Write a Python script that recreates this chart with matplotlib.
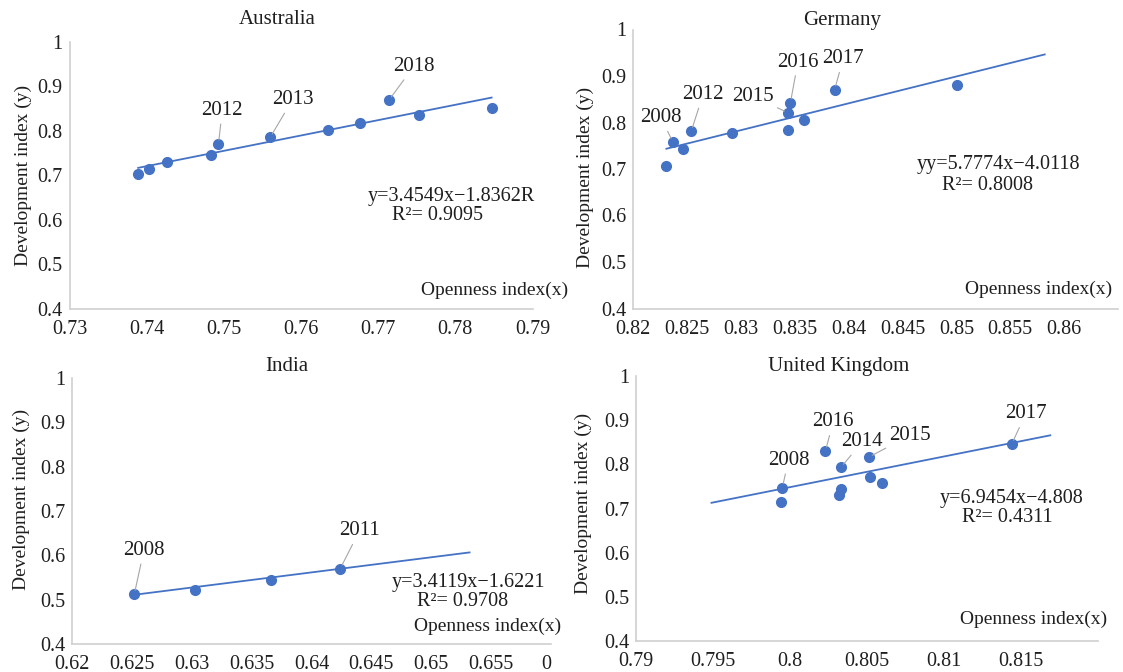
import matplotlib.pyplot as plt

plt.rcParams['font.family'] = ['Liberation Serif', 'DejaVu Serif']

W, H = 1123, 672
BLUE = '#4472C4'
GREY = '#a6a6a6'
TXT = '#1f1f1f'

# ---- data ----
aus_x = [0.7389, 0.7403, 0.7426, 0.7483, 0.7493, 0.7560, 0.7635, 0.7677, 0.7714, 0.7753, 0.7847]
aus_y = [0.703, 0.714, 0.730, 0.746, 0.770, 0.785, 0.801, 0.817, 0.869, 0.836, 0.851]
aus_fit = (3.4549, -1.8362, 0.7389, 0.7847)
aus_years = ['2012', '2013', '2018']
aus_year_pts = [(0.7493, 0.770), (0.7560, 0.785), (0.7714, 0.869)]
aus_year_txt = [(0.7498, 0.846), (0.7589, 0.870), (0.7746, 0.945)]

ger_x = [0.8231, 0.8237, 0.8246, 0.8254, 0.8292, 0.8344, 0.8344, 0.8346, 0.8359, 0.8387, 0.8501]
ger_y = [0.706, 0.758, 0.744, 0.781, 0.778, 0.784, 0.821, 0.842, 0.806, 0.870, 0.880]
ger_fit = (5.7774, -4.0118, 0.8231, 0.8582)
ger_years = ['2008', '2012', '2015', '2016', '2017']
ger_year_pts = [(0.8237, 0.758), (0.8254, 0.781), (0.8344, 0.821), (0.8346, 0.842), (0.8387, 0.870)]
ger_year_txt = [(0.8226, 0.810), (0.8265, 0.860), (0.8311, 0.856), (0.8353, 0.930), (0.8395, 0.937)]

ind_x = [0.6252, 0.6303, 0.6366, 0.6424]
ind_y = [0.512, 0.5215, 0.544, 0.570]
ind_fit = (3.4119, -1.6221, 0.6252, 0.6532)
ind_years = ['2008', '2011']
ind_year_pts = [(0.6252, 0.512), (0.6424, 0.570)]
ind_year_txt = [(0.6260, 0.611), (0.6440, 0.655)]

uk_x = [0.7994, 0.7995, 0.8023, 0.8032, 0.8033, 0.8033, 0.8051, 0.8052, 0.8060, 0.8144]
uk_y = [0.715, 0.747, 0.830, 0.731, 0.745, 0.793, 0.816, 0.772, 0.758, 0.846]
uk_fit = (6.9454, -4.808, 0.7949, 0.8169)
uk_years = ['2008', '2016', '2014', '2015', '2017']
uk_year_pts = [(0.7995, 0.747), (0.8023, 0.830), (0.8033, 0.793), (0.8051, 0.816), (0.8144, 0.846)]
uk_year_txt = [(0.7999, 0.809), (0.8028, 0.896), (0.8047, 0.851), (0.8078, 0.866), (0.8153, 0.914)]

y_ticks = [0.4, 0.5, 0.6, 0.7, 0.8, 0.9, 1.0]
y_ticklabels = ['0.4', '0.5', '0.6', '0.7', '0.8', '0.9', '1']

aus_xticks = [0.73, 0.74, 0.75, 0.76, 0.77, 0.78, 0.79]
aus_xlabels = ['0.73', '0.74', '0.75', '0.76', '0.77', '0.78', '0.79']
ger_xticks = [0.82, 0.825, 0.83, 0.835, 0.84, 0.845, 0.85, 0.855, 0.86]
ger_xlabels = ['0.82', '0.825', '0.83', '0.835', '0.84', '0.845', '0.85', '0.855', '0.86']
ind_xticks = [0.62, 0.625, 0.63, 0.635, 0.64, 0.645, 0.65, 0.655, 0.66]
ind_xlabels = ['0.62', '0.625', '0.63', '0.635', '0.64', '0.645', '0.65', '0.655', '0']
uk_xticks = [0.79, 0.795, 0.8, 0.805, 0.81, 0.815]
uk_xlabels = ['0.79', '0.795', '0.8', '0.805', '0.81', '0.815']

equations = [('y=3.4549x\u22121.8362R', 'R\u00b2= 0.9095'),
             ('yy=5.7774x\u22124.0118', 'R\u00b2= 0.8008'),
             ('y=3.4119x\u22121.6221', 'R\u00b2= 0.9708'),
             ('y=6.9454x\u22124.808', 'R\u00b2= 0.4311')]
titles = ['Australia', 'Germany', 'India', 'United Kingdom']


def box(l, r, t, b):
    return [l / W, 1 - b / H, (r - l) / W, (b - t) / H]


def ftext(px, py, s, **kw):
    fig.text(px / W, 1 - py / H, s, color=TXT, **kw)


fig = plt.figure(figsize=(W / 100, H / 100), dpi=100)

panels = [
    dict(box=box(69.5, 532.5, 42, 308.5), xlim=(0.73, 0.79), xt=aus_xticks, xl=aus_xlabels,
         x=aus_x, y=aus_y, fit=aus_fit, yrs=aus_years, ypts=aus_year_pts, ytxt=aus_year_txt,
         title=(277, 20), ylab=(23, 175), eq=((451, 197), (438, 216)), open=(421, 290)),
    dict(box=box(633, 1118, 29.5, 308.5), xlim=(0.82, 0.865), xt=ger_xticks, xl=ger_xlabels,
         x=ger_x, y=ger_y, fit=ger_fit, yrs=ger_years, ypts=ger_year_pts, ytxt=ger_year_txt,
         title=(842, 21), ylab=(585, 177), eq=((998, 165), (988, 185)), open=(965, 289)),
    dict(box=box(72, 551, 378, 644), xlim=(0.62, 0.66), xt=ind_xticks, xl=ind_xlabels,
         x=ind_x, y=ind_y, fit=ind_fit, yrs=ind_years, ypts=ind_year_pts, ytxt=ind_year_txt,
         title=(287, 367), ylab=(21, 499), eq=((468, 583), (463, 602)), open=(414, 626)),
    dict(box=box(636, 1098, 376, 641), xlim=(0.79, 0.82), xt=uk_xticks, xl=uk_xlabels,
         x=uk_x, y=uk_y, fit=uk_fit, yrs=uk_years, ypts=uk_year_pts, ytxt=uk_year_txt,
         title=(839, 367), ylab=(583, 503), eq=((1012, 499), (1007, 518)), open=(960, 619)),
]

for i, p in enumerate(panels):
    ax = fig.add_axes(p['box'])
    ax.set_xlim(*p['xlim'])
    ax.set_ylim(0.4, 1.0)
    ax.set_xticks(p['xt'])
    ax.set_xticklabels(p['xl'])
    ax.set_yticks(y_ticks)
    ax.set_yticklabels(y_ticklabels)
    ax.tick_params(length=0, labelsize=14.5, colors=TXT)
    ax.tick_params(axis='x', pad=8)
    ax.tick_params(axis='y', pad=5)
    for s in ['top', 'right']:
        ax.spines[s].set_visible(False)
    for s in ['left', 'bottom']:
        ax.spines[s].set_color('#d0d0d0')
        ax.spines[s].set_linewidth(1.2)
    if i == 2:
        ax.get_xticklabels()[-1].set_ha('right')

    a, b, x0, x1 = p['fit']
    ax.plot([x0, x1], [a * x0 + b, a * x1 + b], color=BLUE, lw=1.3, zorder=2)
    ax.plot(p['x'], p['y'], 'o', color=BLUE, ms=7, zorder=3, clip_on=False)

    for yr, pt, tp in zip(p['yrs'], p['ypts'], p['ytxt']):
        ax.annotate(yr, xy=pt, xytext=tp, ha='center', va='center', fontsize=15, color=TXT,
                    arrowprops=dict(arrowstyle='-', color=GREY, lw=0.8, shrinkA=1, shrinkB=3))

    ftext(*p['title'], titles[i], ha='center', va='center', fontsize=15)
    ftext(*p['ylab'], 'Development index (y)', ha='center', va='center', rotation=90, fontsize=14)
    ftext(*p['eq'][0], equations[i][0], ha='center', va='center', fontsize=14.5)
    ftext(*p['eq'][1], equations[i][1], ha='center', va='center', fontsize=14.5)
    ftext(*p['open'], 'Openness index(x)', ha='left', va='center', fontsize=14)

fig.savefig('out.png', dpi=100)
